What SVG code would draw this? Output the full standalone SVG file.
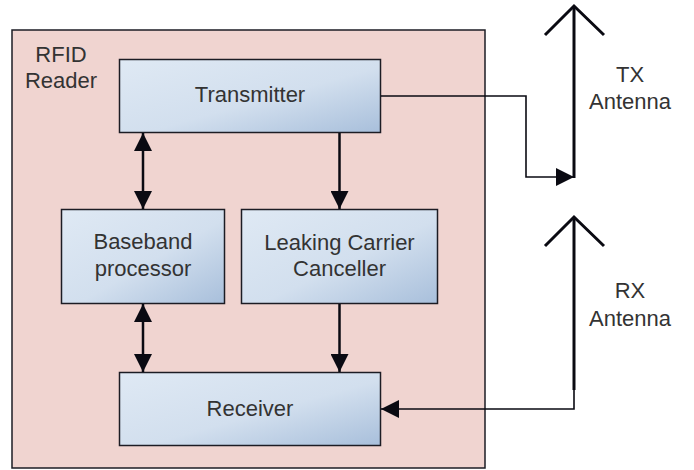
<svg xmlns="http://www.w3.org/2000/svg" width="694" height="470" viewBox="0 0 694 470">
  <defs>
    <linearGradient id="blockFill" x1="0" y1="0" x2="1" y2="1">
      <stop offset="0" stop-color="#dfe9f4"/>
      <stop offset="0.55" stop-color="#d2dfee"/>
      <stop offset="1" stop-color="#a8bfdb"/>
    </linearGradient>
    <marker id="head" markerUnits="userSpaceOnUse" markerWidth="18" markerHeight="18" refX="18" refY="9" orient="auto-start-reverse" viewBox="0 0 18 18">
      <path d="M0,0 L18,9 L0,18 z" fill="#0a0a12"/>
    </marker>
  </defs>
  <style>
    .block { fill: url(#blockFill); stroke: #1c1c24; stroke-width: 1.5; }
    .label { font-family: "Liberation Sans", Arial, sans-serif; font-size: 22px; fill: #333333; text-anchor: middle; }
    .wire { fill: none; stroke: #0a0a12; stroke-width: 2.5; }
    .feed { fill: none; stroke: #0a0a12; stroke-width: 1.6; }
    .ant { fill: none; stroke: #0a0a12; stroke-width: 3; }
  </style>

  <!-- reader enclosure -->
  <g id="reader">
    <rect x="12" y="30" width="473" height="438" fill="#f0d4d0" stroke="#1c1c24" stroke-width="1.5"/>
    <text class="label" x="61" y="62">RFID</text>
    <text class="label" x="61" y="88">Reader</text>
  </g>

  <g id="transmitter">
    <rect class="block" x="119.5" y="59.5" width="261" height="73"/>
    <text class="label" x="250" y="102">Transmitter</text>
  </g>

  <g id="baseband">
    <rect class="block" x="61.5" y="209.5" width="163" height="94"/>
    <text class="label" x="143" y="249">Baseband</text>
    <text class="label" x="143" y="276">processor</text>
  </g>

  <g id="canceller">
    <rect class="block" x="241.5" y="209.5" width="196" height="94"/>
    <text class="label" x="339.5" y="250">Leaking Carrier</text>
    <text class="label" x="339.5" y="276">Canceller</text>
  </g>

  <g id="receiver">
    <rect class="block" x="119.5" y="372.5" width="261" height="73"/>
    <text class="label" x="250" y="416">Receiver</text>
  </g>

  <g id="tx-antenna">
    <line class="ant" x1="574" y1="6" x2="574" y2="178"/>
    <polyline class="ant" points="545,35 574,6 604,35"/>
    <text class="label" x="630" y="82">TX</text>
    <text class="label" x="630" y="109">Antenna</text>
  </g>

  <g id="rx-antenna">
    <line class="ant" x1="574" y1="217" x2="574" y2="390"/>
    <polyline class="ant" points="545,246 574,217 604,246"/>
    <text class="label" x="630" y="298">RX</text>
    <text class="label" x="630" y="326">Antenna</text>
  </g>

  <!-- signal paths -->
  <g id="connectors">
    <line class="wire" x1="143" y1="133" x2="143" y2="209" marker-start="url(#head)" marker-end="url(#head)"/>
    <line class="wire" x1="143" y1="304" x2="143" y2="372" marker-start="url(#head)" marker-end="url(#head)"/>
    <line class="wire" x1="339.5" y1="133" x2="339.5" y2="209" marker-end="url(#head)"/>
    <line class="wire" x1="339.5" y1="304" x2="339.5" y2="372" marker-end="url(#head)"/>
    <polyline class="feed" points="381,96 526,96 526,177 574,177" marker-end="url(#head)"/>
    <polyline class="feed" points="574,390 574,409 381,409" marker-end="url(#head)"/>
  </g>
</svg>
